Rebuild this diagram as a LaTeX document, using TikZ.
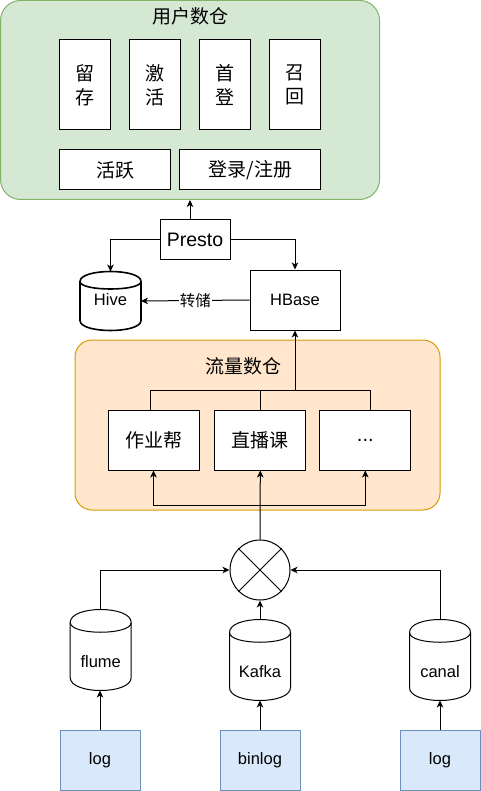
\documentclass[tikz,border=0pt]{standalone}
\usepackage{fontspec}
\setmainfont{Liberation Sans}
\newfontfamily\cjk{Noto Sans CJK SC}
\usetikzlibrary{arrows.meta,calc}
\definecolor{greenF}{HTML}{D5E8D4}
\definecolor{greenS}{HTML}{82B366}
\definecolor{orangeF}{HTML}{FFE6CC}
\definecolor{orangeS}{HTML}{D79B00}
\definecolor{blueF}{HTML}{DAE8FC}
\definecolor{blueS}{HTML}{6C8EBF}
\newcommand\mycyl[7]{% name, cx, cy, w, h, dy, linewidth
  \node[minimum width=#4pt, minimum height=#5pt, inner sep=0pt] (#1) at (#2,#3) {};
  \draw[line width=#7pt, fill=white] ([yshift=-#6pt]#1.north west) .. controls ([yshift=#6pt/3]#1.north west) and ([yshift=#6pt/3]#1.north east) .. ([yshift=-#6pt]#1.north east) -- ([yshift=#6pt]#1.south east) .. controls ([yshift=-#6pt/3]#1.south east) and ([yshift=-#6pt/3]#1.south west) .. ([yshift=#6pt]#1.south west) -- cycle;
  \draw[line width=#7pt] ([yshift=-#6pt]#1.north west) .. controls ([yshift=-2*#6pt]#1.north west) and ([yshift=-2*#6pt]#1.north east) .. ([yshift=-#6pt]#1.north east);
}
\begin{document}
\begin{tikzpicture}[x=1pt,y=-1pt,line width=1pt,
  arr/.style={-{Stealth[length=7pt,width=6.5pt,inset=2pt]}},
  box/.style={draw, fill=white, inner sep=0pt},
  cjkf/.style={font=\cjk\fontsize{19}{24}\selectfont},
  latf/.style={font=\fontsize{16.5}{19}\selectfont},
  srcbox/.style={draw=blueS, fill=blueF, inner sep=0pt, minimum width=80pt, minimum height=60pt, font=\fontsize{16.5}{19}\selectfont},
  lbl/.style={inner sep=0pt, font=\fontsize{16.5}{19}\selectfont}]
\useasboundingbox (0,0) rectangle (481,791);

% user warehouse
\node[draw=greenS, fill=greenF, rounded corners=20pt, minimum width=379pt, minimum height=199pt, inner sep=0pt] (user) at (190,100) {};
\node[cjkf, inner sep=0pt] (usert) at (190,16) {用户数仓};
\node[box, cjkf, align=center, minimum width=50.7pt, minimum height=90pt] (liucun) at (85.3,85) {留\\存};
\node[box, cjkf, align=center, minimum width=50.7pt, minimum height=90pt] (jihuo) at (155.3,85) {激\\活};
\node[box, cjkf, align=center, minimum width=50.7pt, minimum height=90pt] (shoudeng) at (225.3,85) {首\\登};
\node[box, cjkf, align=center, minimum width=50.7pt, minimum height=90pt] (zhaohui) at (295.3,85) {召\\回};
\node[box, cjkf, minimum width=110.7pt, minimum height=40pt] (huoyue) at (115.3,170) {活跃};
\node[box, cjkf, minimum width=140.7pt, minimum height=40pt] (denglu) at (250.3,170) {登录/注册};

% presto, hive, hbase
\node[box, font=\fontsize{19.5}{22}\selectfont, minimum width=70pt, minimum height=40pt] (presto) at (195,240) {Presto};
\mycyl{hive}{110.5}{301}{60}{58}{10}{1.6}
\node[lbl] (hivet) at (110.5,300) {Hive};
\node[box, latf, minimum width=90pt, minimum height=60pt] (hbase) at (295,300) {HBase};

\draw[arr] ([xshift=-5pt]presto.north) -- ([xshift=-5pt]presto.north |- user.south);
\draw[arr] (presto.west) -| (hive.north);
\draw[arr] (presto.east) -| (hbase.north);
\draw[arr] (hbase.west) -- node[fill=white, inner sep=1pt, font=\cjk\fontsize{15.5}{18}\selectfont] (zhuanchu) {转储} (hive.east);

% traffic warehouse
\node[draw=orangeS, fill=orangeF, rounded corners=17pt, minimum width=365pt, minimum height=170pt, inner sep=0pt] (flow) at (257.5,425) {};
\node[cjkf, inner sep=0pt] (flowt) at (243,366) {流量数仓};
\node[box, cjkf, minimum width=91pt, minimum height=60pt] (zyb) at (153.5,440) {作业帮};
\node[box, cjkf, minimum width=90.7pt, minimum height=60pt] (zbk) at (260.3,440) {直播课};
\node[box, font=\fontsize{20}{22}\selectfont, minimum width=90.7pt, minimum height=60pt] (etc) at (365.3,440) {...};

\coordinate (j) at (295,390);
\draw ([xshift=-3.5pt]zyb.north) |- (j);
\draw (zbk.north) -- (zbk.north |- j);
\draw ([xshift=4.7pt]etc.north) |- (j);
\draw[arr] (j) -- (hbase.south);

% merge
\node[draw, fill=white, circle, minimum size=60pt, inner sep=0pt] (sum) at (260,570) {};
\draw (sum.north west) -- (sum.south east);
\draw (sum.north east) -- (sum.south west);

\coordinate (k) at (260,505);
\draw[arr] (sum.north) -- (zbk.south);
\draw[arr] (k) -| (zyb.south);
\draw[arr] (k) -| (etc.south);

% sources
\mycyl{flume}{100.7}{650}{60}{80}{13}{1}
\node[lbl] (flumet) at (100.7,662) {flume};
\mycyl{kafka}{260}{660}{60}{80}{13}{1}
\node[lbl] (kafkat) at (260,672) {Kafka};
\mycyl{canal}{440}{660}{60}{80}{13}{1}
\node[lbl] (canalt) at (440,672) {canal};

\draw[arr] ([xshift=-0.7pt]flume.north) |- (sum.west);
\draw[arr] (kafka.north) -- (sum.south);
\draw[arr] (canal.north) |- (sum.east);

\node[srcbox] (log1) at (100,760) {log};
\node[srcbox] (binlog) at (260,760) {binlog};
\node[srcbox] (log2) at (440,760) {log};

\draw[arr] (log1.north) -- (log1.north |- flume.south);
\draw[arr] (binlog.north) -- (kafka.south);
\draw[arr] (log2.north) -- (canal.south);
\end{tikzpicture}
\end{document}
